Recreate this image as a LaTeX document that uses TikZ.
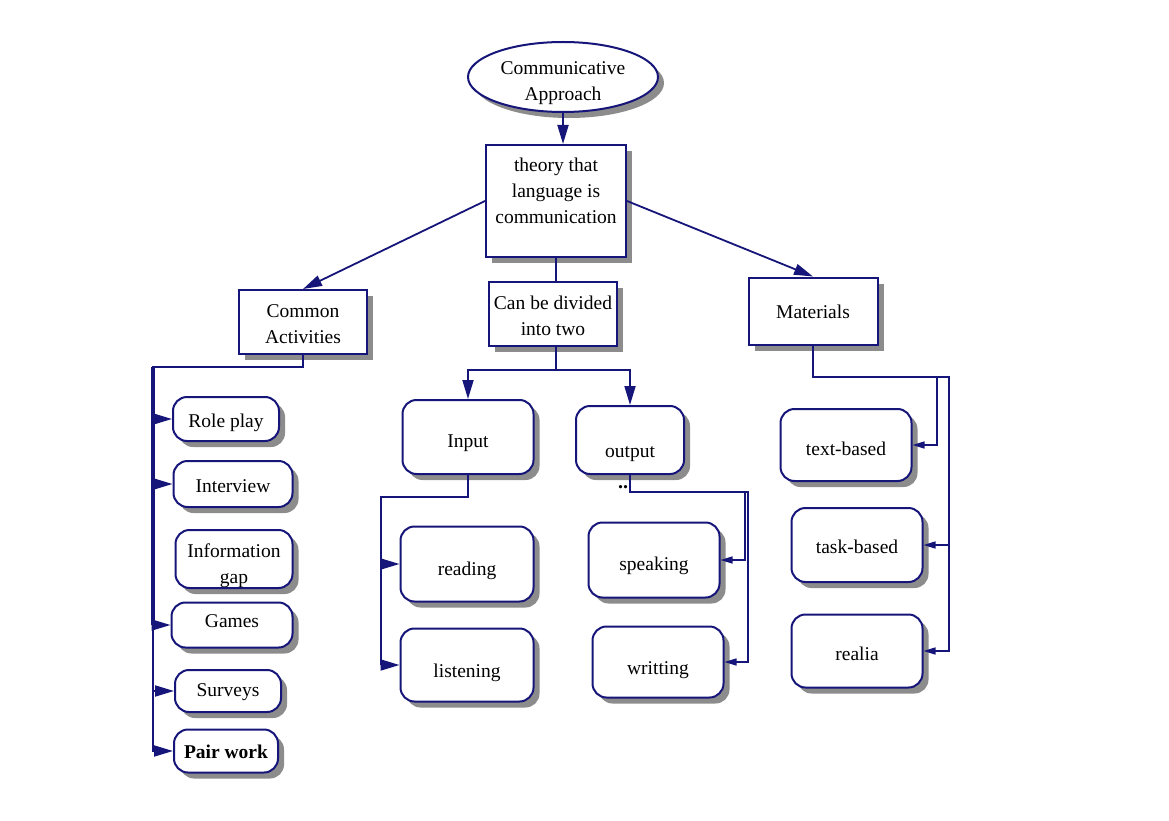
\documentclass[tikz,border=0pt]{standalone}
\usepackage{fontspec}
\setmainfont{Liberation Serif}
\usetikzlibrary{arrows.meta,shadows,shapes.geometric}
\definecolor{navy}{RGB}{22,22,122}

% text moved up (or down) inside its box
\newcommand{\lift}[2]{\raisebox{#1}[\height][\depth]{\begin{tabular}{@{}c@{}}#2\end{tabular}}}
% same, but taking no room (for the oval)
\newcommand{\flatlift}[2]{\raisebox{#1}[0pt][0pt]{\begin{tabular}{@{}c@{}}#2\end{tabular}}}

\tikzset{
	sq/.style={draw=navy, line width=2pt, fill=white, inner sep=2pt,
		drop shadow={shadow xshift=6pt, shadow yshift=-6pt, fill=black!45, opacity=1}},
	rnd/.style={sq, rounded corners=14pt},
	link/.style={draw=navy, line width=1.8pt, -{Triangle[length=19pt,width=11pt]}},
	thin link/.style={draw=navy, line width=1.4pt, -{Triangle[length=12pt,width=7pt]}},
}

\begin{document}
\begin{tikzpicture}[x=1pt, y=-1pt, font=\fontsize{19.5}{26}\selectfont]
		\useasboundingbox (0, 0) rectangle (1169, 821);

		% top
		\node[sq, ellipse, minimum width=190pt, minimum height=70pt] (approach) at (563, 77) {\flatlift{-10pt}{Communicative\\Approach}};
		\node[sq, minimum width=140pt, minimum height=112pt] (theory) at (556, 201) {\lift{9pt}{theory that\\language is\\communication}};

		% second row
		\node[sq, minimum width=128pt, minimum height=64pt] (common) at (303, 322) {\lift{-3pt}{Common\\Activities}};
		\node[sq, minimum width=128pt, minimum height=64pt] (divided) at (553, 314) {\lift{-3pt}{Can be divided\\into two}};
		\node[sq, minimum width=129pt, minimum height=67pt] (materials) at (813, 311) {\lift{-2pt}{Materials}};

		% activities
		\node[rnd, minimum width=106pt, minimum height=44pt] (roleplay) at (226, 419) {\lift{-3pt}{Role play}};
		\node[rnd, minimum width=119pt, minimum height=46pt] (interview) at (233, 484) {\lift{-3pt}{Interview}};
		\node[rnd, minimum width=117pt, minimum height=58pt] (infogap) at (234, 559) {\lift{-6pt}{Information\\gap}};
		\node[rnd, minimum width=121pt, minimum height=45pt] (games) at (232, 625) {\lift{3pt}{Games}};
		\node[rnd, minimum width=106pt, minimum height=42pt] (surveys) at (228, 691) {\lift{0pt}{Surveys}};
		\node[rnd, minimum width=104pt, minimum height=43pt] (pairwork) at (226, 751) {\lift{-2pt}{\bfseries Pair work}};

		% skills
		\node[rnd, minimum width=131pt, minimum height=74pt] (input) at (468, 437) {\lift{-5pt}{Input}};
		\node[rnd, minimum width=108pt, minimum height=68pt] (output) at (630, 440) {\lift{-12pt}{output}};
		\node[font=\fontsize{20}{24}\bfseries, inner sep=1pt] (dots) at (623, 487) {..};
		\node[rnd, minimum width=133pt, minimum height=75pt] (reading) at (467, 564) {\lift{-6pt}{reading}};
		\node[rnd, minimum width=133pt, minimum height=73pt] (listening) at (467, 665) {\lift{-7pt}{listening}};
		\node[rnd, minimum width=131pt, minimum height=75pt] (speaking) at (654, 560) {\lift{-5pt}{speaking}};
		\node[rnd, minimum width=131pt, minimum height=71pt] (writting) at (658, 662) {\lift{-7pt}{writting}};

		% materials
		\node[rnd, minimum width=131pt, minimum height=72pt] (textbased) at (846, 445) {\lift{-5pt}{text-based}};
		\node[rnd, minimum width=131pt, minimum height=74pt] (taskbased) at (857, 545) {\lift{-3pt}{task-based}};
		\node[rnd, minimum width=131pt, minimum height=73pt] (realia) at (857, 651) {\lift{-4pt}{realia}};

		\coordinate (cj) at (153, 367);
		\coordinate (dj) at (556, 370);
		\coordinate (ij) at (381, 497);
		\coordinate (oj) at (745, 492);
		\coordinate (oj2) at (748, 492);
		\coordinate (mj) at (937, 377);
		\coordinate (mj2) at (949, 377);

		% connectors
		\draw[link] (approach.south) -- (approach.south |- theory.north);
		\draw[link] (theory.west) -- (common.north);
		\draw[link] (theory.east) -- (materials.north);
		\draw[navy, line width=1.8pt] (theory.south) -- (theory.south |- divided.north);

		\draw[navy, line width=4pt] (cj) -- (cj |- games.west);
		\foreach \n in {roleplay, interview, games, surveys, pairwork} {
			\draw[link] (common.south) |- (cj) |- (\n.west);
		}

		\draw[navy, line width=1.8pt] (dj |- divided.south) -- (dj);
		\draw[link] (dj) -| (input.north);
		\draw[link] (dj) -| (output.north);
		\draw[link] (input.south) |- (ij) |- (reading.west);
		\draw[link] (ij) |- (listening.west);
		\draw[thin link] (output.south) |- (oj) |- (speaking.east);
		\draw[thin link] (oj) -- (oj2) |- (writting.east);

		\draw[thin link] (materials.south) |- (mj) |- (textbased.east);
		\draw[thin link] (mj) -- (mj2) |- (taskbased.east);
		\draw[thin link] (mj2) |- (realia.east);
	\end{tikzpicture}
\end{document}
